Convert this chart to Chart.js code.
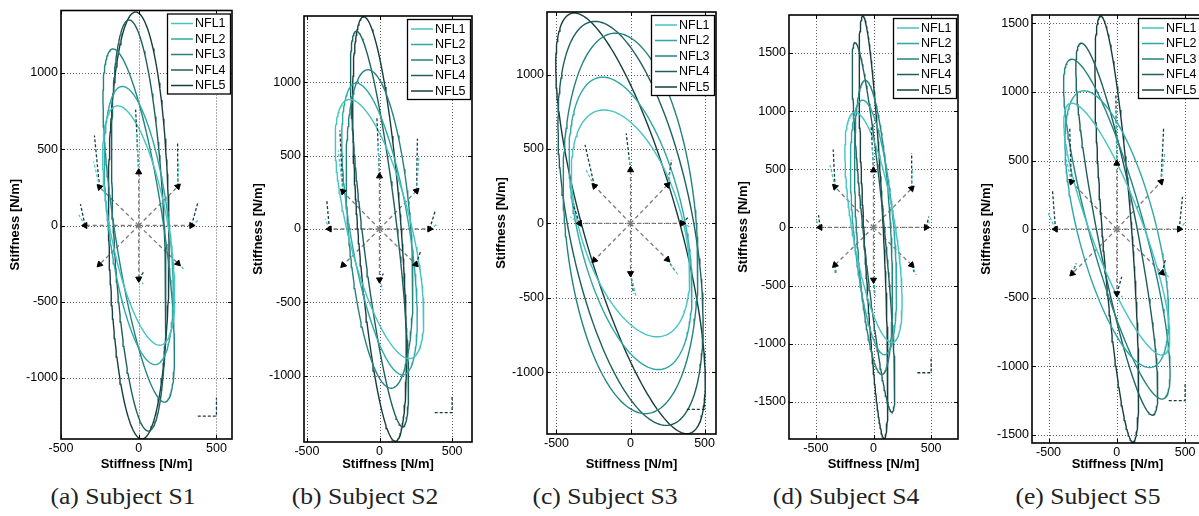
<!DOCTYPE html>
<html>
<head>
<meta charset="utf-8">
<script src="https://cdn.jsdelivr.net/npm/chart.js@4.4.1/dist/chart.umd.min.js"></script>
<style>
  html, body { margin: 0; padding: 0; background: #fff; }
  body { width: 1199px; height: 516px; position: relative; overflow: hidden; }
  canvas { position: absolute; top: 0; }
  .cap { position: absolute; top: 484px; width: 240px; text-align: center;
         font-family: "Liberation Serif", serif; font-size: 21px; color: #222;
         transform: scale(1.22, 1.05); transform-origin: center top; }
</style>
</head>
<body>
<canvas id="s1"></canvas>
<canvas id="s2"></canvas>
<canvas id="s3"></canvas>
<canvas id="s4"></canvas>
<canvas id="s5"></canvas>
<script>
// --- 1. DATA ---
const NFL_LABELS = ['NFL1', 'NFL2', 'NFL3', 'NFL4', 'NFL5'];
const NFL_COLORS = ['#46c3c3', '#2fa7a5', '#24837f', '#1d605e', '#173e3e'];

const X_TICKS = [-500, 0, 500];
const Y_TICKS_1000 = [-1000, -500, 0, 500, 1000];
const Y_TICKS_1500 = [-1500, -1000, -500, 0, 500, 1000, 1500];

// stiffness ellipses: top-most y, x at the top-most point, right-most x (N/m)
const S1_TOP_Y = [785, 912, 1158, 1348, 1400];
const S1_TOP_X = [-135, -105, -165, -62, -20];
const S1_MAX_X = [232, 222, 230, 175, 195];

const S2_TOP_Y = [882, 993, 1084, 1347, 1445];
const S2_TOP_X = [-205, -159, -80, -159, -109];
const S2_MAX_X = [305, 260, 230, 200, 185];

const S3_TOP_Y = [762, 982, 1278, 1357, 1413];
const S3_TOP_X = [-180, -188, -100, -240, -380];
const S3_MAX_X = [400, 415, 455, 490, 505];

const S4_TOP_Y = [990, 1095, 1265, 1590, 1818];
const S4_TOP_X = [-160, -95, -72, -160, -92];
const S4_MAX_X = [248, 200, 165, 185, 125];

const S5_TOP_Y = [918, 1008, 1238, 1355, 1552];
const S5_TOP_X = [-330, -240, -330, -260, -118];
const S5_MAX_X = [388, 380, 390, 300, 160];

// perturbation arrows, order: R, UR, U, UL, L, DL, D, DR
const S1_ARROWS = [[340, 0], [252, 256], [0, 350], [-252, 252], [-345, 0], [-252, -255], [0, -350], [252, -248]];
const S1_TRACE_DARK = [[380, 150], [250, 550], [-20, 760], [-285, 590], [-375, 140], [-252, -255], [35, -300], [270, -270]];
const S1_TRACE_LIGHT = [[390, 40], [258, 420], [-15, 600], [-290, 420], [-385, 70], [-252, -255], [30, -385], [295, -290]];

const S2_ARROWS = [[345, 0], [255, 260], [0, 360], [-252, 255], [-345, 0], [-250, -245], [0, -345], [250, -240]];
const S2_TRACE_DARK = [[386, 131], [261, 614], [-18, 762], [-273, 671], [-363, 195], [-250, -245], [27, -304], [284, -150]];
const S2_TRACE_LIGHT = [[404, 36], [272, 490], [-11, 603], [-284, 535], [-375, 70], [-250, -245], [23, -417], [295, -292]];

const S3_ARROWS = [[349, 0], [249, 258], [0, 359], [-244, 251], [-344, 0], [-244, -247], [0, -336], [249, -242]];
const S3_TRACE_DARK = [[393, 45], [278, 426], [-29, 605], [-307, 527], [-389, 130], [-244, -247], [20, -471], [304, -325]];
const S3_TRACE_LIGHT = [[398, -22], [271, 359], [-11, 448], [-300, 359], [-407, 45], [-244, -247], [38, -493], [322, -348]];

const S4_ARROWS = [[457, 0], [331, 335], [0, 492], [-334, 349], [-463, 0], [-334, -323], [0, -452], [331, -323]];
const S4_TRACE_DARK = [[480, 92], [331, 641], [-20, 870], [-349, 670], [-477, 106], [-326, -395], [9, -567], [351, -381]];
const S4_TRACE_LIGHT = [[486, 49], [337, 492], [-11, 693], [-377, 535], [-500, 63], [-334, -409], [17, -595], [371, -409]];

const S5_ARROWS = [[457, 0], [324, 345], [0, 479], [-333, 345], [-449, 0], [-326, -323], [0, -469], [331, -318]];
const S5_TRACE_DARK = [[481, 236], [343, 746], [-7, 977], [-345, 746], [-471, 284], [-297, -250], [36, -348], [355, -226]];
const S5_TRACE_LIGHT = [[505, 53], [350, 552], [0, 868], [-374, 528], [-502, 114], [-309, -275], [41, -494], [384, -348]];

// L-shaped scale marker in the lower right corner
const SCALE_MARK = [[380, -1250], [500, -1250], [500, -1130]];

// --- 2. PANEL LAYOUT (chart area in page pixels: left, top, right, bottom) ---
const PANELS = [
  { id: 's1', caption: '(a) Subject S1', capX: 123, area: [61, 7, 233, 439], xRange: [-500, 600], yRange: [-1400, 1410],
    yTicks: Y_TICKS_1000, topY: S1_TOP_Y, topX: S1_TOP_X, maxX: S1_MAX_X, arrows: S1_ARROWS, dark: S1_TRACE_DARK, light: S1_TRACE_LIGHT },
  { id: 's2', caption: '(b) Subject S2', capX: 365, area: [304, 16, 473, 442], xRange: [-520, 637], yRange: [-1450, 1450],
    yTicks: Y_TICKS_1000, topY: S2_TOP_Y, topX: S2_TOP_X, maxX: S2_MAX_X, arrows: S2_ARROWS, dark: S2_TRACE_DARK, light: S2_TRACE_LIGHT },
  { id: 's3', caption: '(c) Subject S3', capX: 605, area: [547, 12, 717, 434], xRange: [-564, 577], yRange: [-1415, 1420],
    yTicks: Y_TICKS_1000, topY: S3_TOP_Y, topX: S3_TOP_X, maxX: S3_MAX_X, arrows: S3_ARROWS, dark: S3_TRACE_DARK, light: S3_TRACE_LIGHT },
  { id: 's4', caption: '(d) Subject S4', capX: 846, area: [789, 15, 959, 439], xRange: [-733, 733], yRange: [-1820, 1827],
    yTicks: Y_TICKS_1500, topY: S4_TOP_Y, topX: S4_TOP_X, maxX: S4_MAX_X, arrows: S4_ARROWS, dark: S4_TRACE_DARK, light: S4_TRACE_LIGHT },
  { id: 's5', caption: '(e) Subject S5', capX: 1088, area: [1032, 15, 1204, 443], xRange: [-621, 631], yRange: [-1558, 1560],
    yTicks: Y_TICKS_1500, topY: S5_TOP_Y, topX: S5_TOP_X, maxX: S5_MAX_X, arrows: S5_ARROWS, dark: S5_TRACE_DARK, light: S5_TRACE_LIGHT }
];

const Y_AXIS_W = 61;
const CANVAS_H = 476;
const PAD_R = 4;

// ellipse outline from its read extents
function ellipsePoints(maxX, topY, topX) {
  const phi = Math.acos(topX / maxX);
  const pts = [];
  for (let k = 0; k <= 180; k++) {
    const t = (k / 180) * 2 * Math.PI;
    pts.push({ x: maxX * Math.cos(t - phi), y: topY * Math.cos(t) });
  }
  return pts;
}

const toPts = arr => arr.map(([x, y]) => ({ x, y }));

// --- 3. MATLAB STYLE FRAME, GRID, INWARD TICKS AND LEGEND ---
const matlabPlugin = {
  id: 'matlab',
  beforeDatasetsDraw(chart) {
    const { ctx, chartArea: a, scales: { x, y } } = chart;
    ctx.save();
    ctx.strokeStyle = 'rgba(40,40,40,0.75)';
    ctx.lineWidth = 1;
    ctx.setLineDash([1, 2]);
    x.ticks.forEach(t => {
      const px = Math.round(x.getPixelForValue(t.value)) + 0.5;
      ctx.beginPath(); ctx.moveTo(px, a.top); ctx.lineTo(px, a.bottom); ctx.stroke();
    });
    y.ticks.forEach(t => {
      const py = Math.round(y.getPixelForValue(t.value)) + 0.5;
      ctx.beginPath(); ctx.moveTo(a.left, py); ctx.lineTo(a.right, py); ctx.stroke();
    });
    ctx.restore();
  },
  afterDatasetsDraw(chart) {
    const { ctx, chartArea: a, scales: { x, y } } = chart;
    ctx.save();
    ctx.setLineDash([]);
    ctx.strokeStyle = '#000';
    // inward ticks
    ctx.lineWidth = 1;
    x.ticks.forEach(t => {
      const px = Math.round(x.getPixelForValue(t.value)) + 0.5;
      ctx.beginPath(); ctx.moveTo(px, a.bottom); ctx.lineTo(px, a.bottom - 4);
      ctx.moveTo(px, a.top); ctx.lineTo(px, a.top + 4); ctx.stroke();
    });
    y.ticks.forEach(t => {
      const py = Math.round(y.getPixelForValue(t.value)) + 0.5;
      ctx.beginPath(); ctx.moveTo(a.left, py); ctx.lineTo(a.left + 4, py);
      ctx.moveTo(a.right, py); ctx.lineTo(a.right - 4, py); ctx.stroke();
    });
    // frame
    ctx.lineWidth = 1.6;
    ctx.strokeRect(a.left, a.top, a.right - a.left, a.bottom - a.top);

    // legend box, top right inside the axes
    const items = chart.data.datasets.filter(d => d.nfl);
    const w = 64, h = 81;
    const bx = a.right - 1 - w, by = a.top + 3;
    ctx.fillStyle = '#fff';
    ctx.fillRect(bx, by, w, h);
    ctx.lineWidth = 1.3;
    ctx.strokeRect(bx + 0.5, by + 0.5, w - 1, h - 1);
    ctx.font = '12.5px "Liberation Sans", Arial, sans-serif';
    ctx.textBaseline = 'middle';
    items.forEach((d, i) => {
      const ry = by + 10 + i * 15.5;
      ctx.strokeStyle = d.borderColor;
      ctx.lineWidth = 1.5;
      ctx.beginPath(); ctx.moveTo(bx + 4, ry); ctx.lineTo(bx + 26, ry); ctx.stroke();
      ctx.fillStyle = '#000';
      ctx.fillText(d.label, bx + 28, ry + 0.5);
    });
    ctx.restore();
  }
};

// --- 4. BUILD EACH PANEL ---
function buildPanel(p) {
  const [L, T, R, B] = p.area;
  const canvas = document.getElementById(p.id);
  canvas.width = (R - L) + Y_AXIS_W + PAD_R;
  canvas.height = CANVAS_H;
  canvas.style.left = (L - Y_AXIS_W) + 'px';

  const datasets = [];

  // ellipses
  p.topY.forEach((Y, i) => {
    datasets.push({
      label: NFL_LABELS[i], nfl: true,
      data: ellipsePoints(p.maxX[i], Y, p.topX[i]),
      borderColor: NFL_COLORS[i], borderWidth: 1.4,
      showLine: true, pointRadius: 0, order: 2
    });
  });

  // radial dashed lines and force traces
  p.arrows.forEach((tip, i) => {
    datasets.push({
      data: toPts([[0, 0], tip]), borderColor: '#7a7a7a', borderWidth: 1.3,
      borderDash: [4, 3], showLine: true, pointRadius: 0, order: 3
    });
    datasets.push({
      data: toPts([tip, p.light[i]]), borderColor: NFL_COLORS[0], borderWidth: 1.2,
      borderDash: [3, 2], showLine: true, pointRadius: 0, order: 1
    });
    datasets.push({
      data: toPts([tip, p.dark[i]]), borderColor: NFL_COLORS[4], borderWidth: 1.3,
      borderDash: [3, 2], showLine: true, pointRadius: 0, order: 1
    });
  });

  // arrowheads
  datasets.push({
    data: toPts(p.arrows), showLine: false,
    pointStyle: 'triangle', pointRadius: 3.5,
    pointRotation: p.arrows.map((_, i) => 90 - i * 45),
    backgroundColor: '#000', borderColor: '#000', borderWidth: 1, order: 0
  });

  // scale marker
  datasets.push({
    data: toPts(SCALE_MARK), borderColor: NFL_COLORS[4], borderWidth: 1.3,
    borderDash: [3, 2], showLine: true, pointRadius: 0, order: 1
  });

  const tickFont = { family: '"Liberation Sans", Arial, sans-serif', size: 12.5 };
  const titleFont = { family: '"Liberation Sans", Arial, sans-serif', size: 13, weight: 'bold' };

  new Chart(canvas.getContext('2d'), {
    type: 'scatter',
    data: { datasets },
    options: {
      responsive: false,
      animation: false,
      events: [],
      layout: { padding: { left: 0, top: T, right: PAD_R, bottom: 0 } },
      plugins: { legend: { display: false }, tooltip: { enabled: false } },
      scales: {
        x: {
          type: 'linear', min: p.xRange[0], max: p.xRange[1],
          afterBuildTicks: s => { s.ticks = X_TICKS.map(v => ({ value: v })); },
          afterFit: s => { s.height = CANVAS_H - B; },
          grid: { display: false, drawTicks: false }, border: { display: false },
          ticks: { color: '#000', font: tickFont, padding: 2, maxRotation: 0, autoSkip: false, callback: v => String(v) },
          title: { display: true, text: 'Stiffness [N/m]', color: '#000', font: titleFont, padding: { top: 0, bottom: 4 } }
        },
        y: {
          type: 'linear', min: p.yRange[0], max: p.yRange[1],
          afterBuildTicks: s => { s.ticks = p.yTicks.map(v => ({ value: v })); },
          afterFit: s => { s.width = Y_AXIS_W; },
          grid: { display: false, drawTicks: false }, border: { display: false },
          ticks: { color: '#000', font: tickFont, padding: 3, autoSkip: false, callback: v => String(v) },
          title: { display: true, text: 'Stiffness [N/m]', color: '#000', font: titleFont, padding: { top: 8, bottom: 0 } }
        }
      }
    },
    plugins: [matlabPlugin]
  });

  const cap = document.createElement('div');
  cap.className = 'cap';
  cap.textContent = p.caption;
  cap.style.left = (p.capX - 120) + 'px';
  document.body.appendChild(cap);
}

PANELS.forEach(buildPanel);
</script>
</body>
</html>
